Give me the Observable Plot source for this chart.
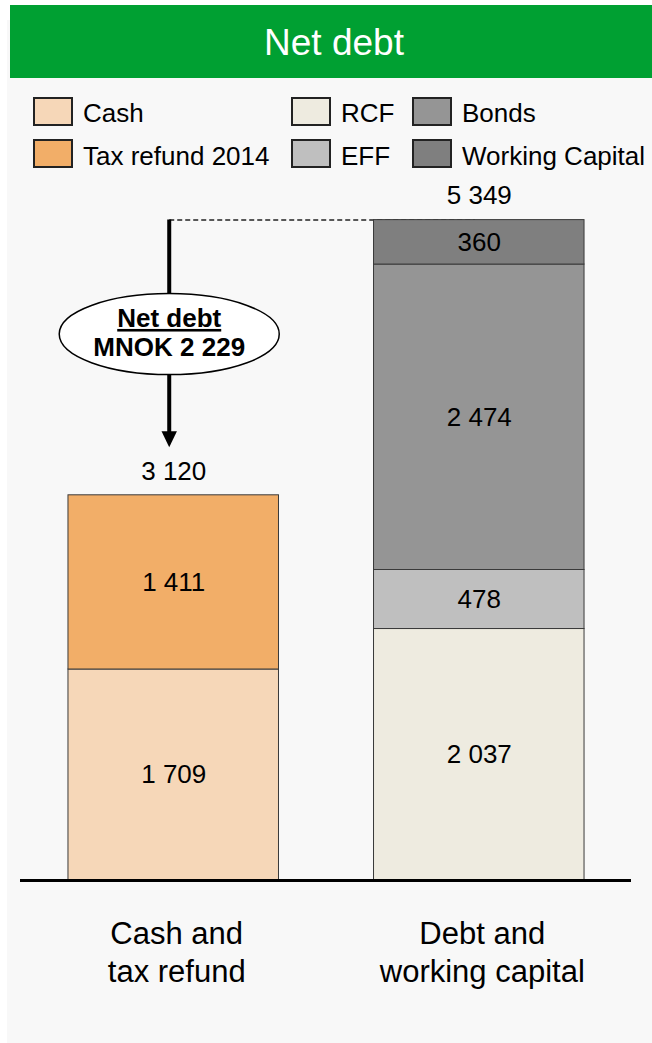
<!DOCTYPE html>
<html>
<head>
<meta charset="utf-8">
<script src="https://cdn.jsdelivr.net/npm/d3@7"></script>
<script src="https://cdn.jsdelivr.net/npm/@observablehq/plot@0.6"></script>
<style>
  html, body { margin: 0; padding: 0; background: #ffffff; }
  #page { position: relative; width: 652px; height: 1043px; overflow: hidden;
          font-family: "Liberation Sans", Arial, sans-serif; }
  #panel { position: absolute; left: 7px; top: 20px; right: 0; bottom: 0; background: #f8f8f8; }
  #header { position: absolute; left: 10px; top: 5px; right: 0; height: 73px; background: #00a032; }
  #title { position: absolute; left: 16px; right: 0; top: 24px; text-align: center; color: #ffffff;
           font-size: 37px; line-height: 1; }
  .sw { position: absolute; width: 40px; height: 29px; box-sizing: border-box; border: 2px solid #222; }
  .lt { position: absolute; font-size: 26px; line-height: 1; color: #000; white-space: nowrap; }
  #chart { position: absolute; left: 0; top: 185px; }
</style>
</head>
<body>
<div id="page">
  <div id="panel"></div>
  <div id="header"></div>
  <div id="title">Net debt</div>
  <div id="legend"></div>
  <div id="chart"></div>
</div>
<script>
// ---- Data ----
const categories = ["Cash and\ntax refund", "Debt and\nworking capital"];
const seriesNames = ["Cash", "Tax refund 2014", "RCF", "EFF", "Bonds", "Working Capital"];
const seriesCategory = [0, 0, 1, 1, 1, 1];
const seriesValues = [1709, 1411, 2037, 478, 2474, 360];
const seriesColors = ["#f6d7b8", "#f2ae68", "#eeebe0", "#bfbfbf", "#959595", "#7f7f7f"];
const annotationTitle = "Net debt";
const annotationUnit = "MNOK";

// ---- Derived tables ----
const fmt = d3.formatLocale({decimal: ",", thousands: " ", grouping: [3], currency: ["", ""]}).format(",");
const cum = categories.map(() => 0);
const rows = seriesNames.map((s, i) => {
  const c = seriesCategory[i];
  const y1 = cum[c];
  cum[c] += seriesValues[i];
  return {series: s, category: categories[c], value: seriesValues[i], y1, y2: cum[c]};
});
const totals = categories.map((c, i) => ({category: c, total: cum[i]}));
const annotation = [{
  from: categories[0], to: categories[1],
  top: totals[1].total, bottom: totals[0].total,
  net: totals[1].total - totals[0].total
}];

// ---- Legend (HTML) ----
const legend = document.getElementById("legend");
const swLeft = [33, 291, 412], txLeft = [83, 341, 462], swTop = [97, 139], txTop = [100, 143];
seriesNames.forEach((s, i) => {
  const col = Math.floor(i / 2), row = i % 2;
  const sw = document.createElement("div");
  sw.className = "sw";
  sw.style.left = swLeft[col] + "px";
  sw.style.top = swTop[row] + "px";
  sw.style.background = seriesColors[i];
  legend.appendChild(sw);
  const t = document.createElement("div");
  t.className = "lt";
  t.style.left = txLeft[col] + "px";
  t.style.top = txTop[row] + "px";
  t.textContent = s;
  legend.appendChild(t);
});

// ---- Custom symbols ----
const arrowHead = {draw(ctx) { ctx.moveTo(-7.7, -16); ctx.lineTo(7.7, -16); ctx.lineTo(0, 0); ctx.closePath(); }};
const ellipseSym = {draw(ctx) {
  const rx = 110, ry = 40.5, k = 0.5523;
  ctx.moveTo(rx, 0);
  ctx.bezierCurveTo(rx, ry * k, rx * k, ry, 0, ry);
  ctx.bezierCurveTo(-rx * k, ry, -rx, ry * k, -rx, 0);
  ctx.bezierCurveTo(-rx, -ry * k, -rx * k, -ry, 0, -ry);
  ctx.bezierCurveTo(rx * k, -ry, rx, -ry * k, rx, 0);
  ctx.closePath();
}};

const font = "Liberation Sans, Arial, sans-serif";
const svg = Plot.plot({
  width: 652,
  height: 858,
  marginLeft: 20, marginRight: 21, marginTop: 0, marginBottom: 0,
  style: {background: "transparent", fontFamily: font, overflow: "visible", color: "#000"},
  x: {type: "band", domain: categories, range: [20, 632], paddingInner: 0.311, paddingOuter: 0.157, align: 0.5, round: false, axis: null},
  y: {domain: [0, 5000], range: [695, 695 - 5000 * 0.12346], axis: null},
  color: {domain: seriesNames, range: seriesColors},
  marks: [
    Plot.link(annotation, {x1: "from", x2: "to", y1: "top", y2: "top", dx: -4.5,
      stroke: "#222", strokeWidth: 1.5, strokeDasharray: "5,3"}),
    Plot.barY(rows, {x: "category", y1: "y1", y2: "y2", fill: "series", stroke: "#3a3a3a", strokeWidth: 1}),
    Plot.ruleY([0], {stroke: "#000", strokeWidth: 3}),
    Plot.ruleX(annotation, {x: "from", y1: "top", y2: "bottom", dx: -4.5, stroke: "#000", strokeWidth: 4, insetBottom: 62}),
    Plot.dot(annotation, {x: "from", y: "bottom", dx: -4.5, dy: -48, symbol: arrowHead, fill: "#000", stroke: "none"}),
    Plot.dot(annotation, {x: "from", y: "top", dx: -4.5, dy: 114, symbol: ellipseSym, fill: "#fff", stroke: "#000", strokeWidth: 1.5}),
    Plot.text(annotation, {x: "from", y: "top", dx: -4.5, dy: 98.5, text: () => annotationTitle,
      fontSize: 26, fontWeight: "bold", fill: "#000"}),
    Plot.text(annotation, {x: "from", y: "top", dx: -4.5, dy: 127.5, text: d => annotationUnit + " " + fmt(d.net),
      fontSize: 26, fontWeight: "bold", fill: "#000"}),
    Plot.text(totals, {x: "category", y: "total", dy: -24, text: d => fmt(d.total), fontSize: 26, fill: "#000"}),
    Plot.text(rows, {x: "category", y: d => (d.y1 + d.y2) / 2, text: d => fmt(d.value), fontSize: 26, fill: "#000"}),
    Plot.text(categories, {x: d => d, y: () => 0, text: d => d, lineAnchor: "top", dx: 3, dy: 36,
      fontSize: 31, lineHeight: 1.23, fill: "#000"})
  ]
});
d3.select(svg).selectAll("text")
  .filter(function () { return this.textContent === annotationTitle; })
  .style("text-decoration", "underline")
  .style("text-underline-offset", "4px");
document.getElementById("chart").appendChild(svg);
</script>
</body>
</html>
